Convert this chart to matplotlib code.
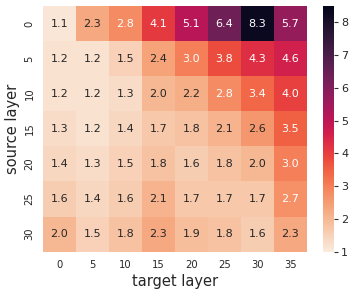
import numpy as np
import matplotlib
matplotlib.use("Agg")
import matplotlib.pyplot as plt
import seaborn as sns

sns.set_theme(style="white")
plt.rcParams['font.family'] = ['DejaVu Sans']

source_layers = [0, 5, 10, 15, 20, 25, 30]
target_layers = [0, 5, 10, 15, 20, 25, 30, 35]
row_0 = [1.1, 2.3, 2.8, 4.1, 5.1, 6.4, 8.3, 5.7]
row_5 = [1.2, 1.2, 1.5, 2.4, 3.0, 3.8, 4.3, 4.6]
row_10 = [1.2, 1.2, 1.3, 2.0, 2.2, 2.8, 3.4, 4.0]
row_15 = [1.3, 1.2, 1.4, 1.7, 1.8, 2.1, 2.6, 3.5]
row_20 = [1.4, 1.3, 1.5, 1.8, 1.6, 1.8, 2.0, 3.0]
row_25 = [1.6, 1.4, 1.6, 2.1, 1.7, 1.7, 1.7, 2.7]
row_30 = [2.0, 1.5, 1.8, 2.3, 1.9, 1.8, 1.6, 2.3]
values = np.array([row_0, row_5, row_10, row_15, row_20, row_25, row_30])

W, H = 357, 295
fig = plt.figure(figsize=(W / 100, H / 100), dpi=100)
ax = fig.add_axes([43 / W, 1 - 251.7 / H, (306.7 - 43) / W, (251.7 - 6) / H])
cax = fig.add_axes([323 / W, 1 - 251.7 / H, 11 / W, (251.7 - 6) / H])

sns.heatmap(values, ax=ax, cbar_ax=cax, cmap="rocket_r", vmin=1.0, vmax=8.5,
            annot=True, fmt=".1f", annot_kws={"fontsize": 8},
            xticklabels=target_layers, yticklabels=source_layers)
ax.tick_params(axis='both', labelsize=7.2, length=0, pad=6)
ax.set_yticklabels(source_layers, rotation=90, va='center')
ax.set_xticklabels(target_layers, rotation=0)
ax.set_xlabel("target layer", fontsize=10.5, labelpad=3)
ax.set_ylabel("source layer", fontsize=10.5, labelpad=3)
cax.tick_params(labelsize=8, length=3, width=0.8, color='#333333', pad=2, right=True)
cax.set_yticks([1, 2, 3, 4, 5, 6, 7, 8])

fig.savefig("out.png", dpi=100)
